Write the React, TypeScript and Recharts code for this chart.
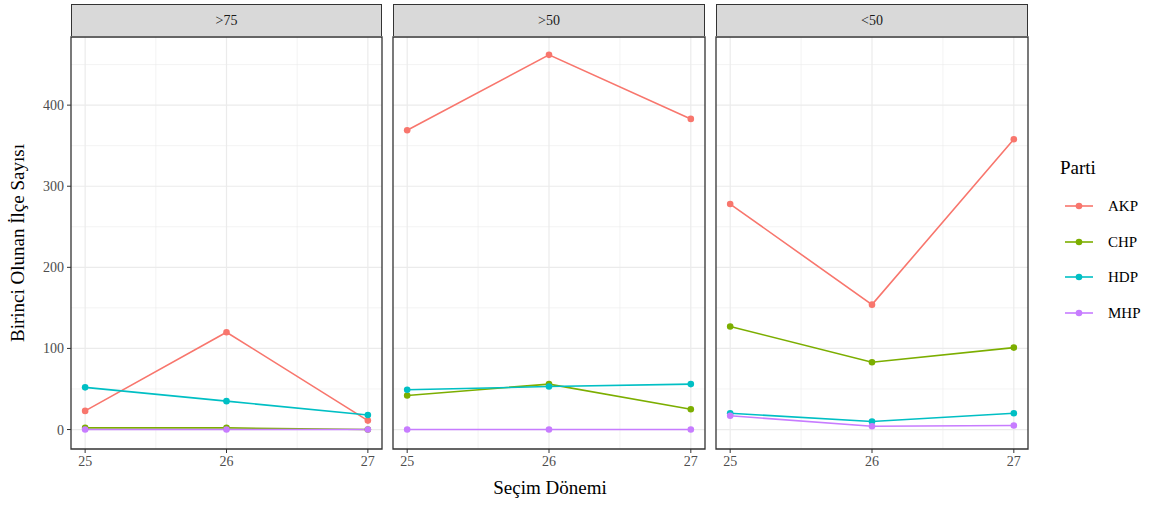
import { LineChart, Line, XAxis, YAxis, CartesianGrid, ReferenceArea } from 'recharts';

const donemler = [25, 26, 27];
const paneller = ['>75', '>50', '<50'];
const partiler = ['AKP', 'CHP', 'HDP', 'MHP'];
const renkler = ['#F8766D', '#7CAE00', '#00BFC4', '#C77CFF'];

// one row per panel, columns follow donemler
const akp = [[23, 120, 11], [369, 462, 383], [278, 154, 358]];
const chp = [[2, 2, 0], [42, 56, 25], [127, 83, 101]];
const hdp = [[52, 35, 18], [49, 53, 56], [20, 10, 20]];
const mhp = [[0, 0, 0], [0, 0, 0], [17, 4, 5]];

const yTicks = [0, 100, 200, 300, 400];
const yMinor = [50, 150, 250, 350, 450];
const xMinor = [25.5, 26.5];

const Y_DOMAIN = [-24, 484];
const X_DOMAIN = [24.9, 27.1];
const FONT = '"Liberation Serif", "Times New Roman", serif';

function panelData(i: number) {
    return donemler.map((d, j) => ({
        donem: d,
        AKP: akp[i][j],
        CHP: chp[i][j],
        HDP: hdp[i][j],
        MHP: mhp[i][j],
    }));
}

// plot area boxes: left, width
const boxes = [
    { left: 71, width: 311 },
    { left: 393, width: 312 },
    { left: 716, width: 312 },
];
const PLOT_TOP = 37;
const PLOT_H = 412;
const PAD = 5;

function Panel({ i }: { i: number }) {
    const box = boxes[i];
    const first = i === 0;
    const chartLeft = first ? 0 : box.left - PAD;
    const chartW = first ? box.left + box.width + PAD : box.width + 2 * PAD;
    return (
        <div style={{ position: 'absolute', left: chartLeft, top: 0 }}>
            <LineChart
                width={chartW}
                height={PLOT_TOP + PLOT_H + 30}
                data={panelData(i)}
                margin={{ top: PLOT_TOP, right: PAD, left: first ? 0 : PAD, bottom: 0 }}
            >
                <CartesianGrid stroke="#EBEBEB" strokeWidth={0.6} horizontalValues={yMinor} verticalValues={xMinor} />
                <CartesianGrid stroke="#EBEBEB" strokeWidth={1.2} horizontalValues={yTicks} verticalValues={donemler} />
                <XAxis
                    type="number"
                    dataKey="donem"
                    domain={X_DOMAIN}
                    ticks={donemler}
                    axisLine={false}
                    tickSize={4}
                    tickMargin={3}
                    height={30}
                    tickLine={{ stroke: '#333333' }}
                    tick={{ fill: '#4D4D4D', fontSize: 14, fontFamily: FONT }}
                />
                <YAxis
                    type="number"
                    domain={Y_DOMAIN}
                    ticks={yTicks}
                    hide={!first}
                    width={first ? 71 : 0}
                    axisLine={false}
                    tickSize={4}
                    tickMargin={3}
                    tickLine={{ stroke: '#333333' }}
                    tick={{ fill: '#4D4D4D', fontSize: 14, fontFamily: FONT }}
                />
                {partiler.map((p, k) => (
                    <Line
                        key={p}
                        type="linear"
                        dataKey={p}
                        stroke={renkler[k]}
                        strokeWidth={1.6}
                        dot={{ r: 3.3, fill: renkler[k], stroke: 'none' }}
                        activeDot={false}
                        isAnimationActive={false}
                    />
                ))}
                <ReferenceArea
                    x1={X_DOMAIN[0]}
                    x2={X_DOMAIN[1]}
                    y1={Y_DOMAIN[0]}
                    y2={Y_DOMAIN[1]}
                    fill="none"
                    stroke="#333333"
                    strokeWidth={1.3}
                    ifOverflow="visible"
                />
            </LineChart>
            <div
                style={{
                    position: 'absolute',
                    left: box.left - chartLeft,
                    top: 4,
                    width: box.width,
                    height: 32,
                    boxSizing: 'border-box',
                    background: '#D9D9D9',
                    border: '1.3px solid #333333',
                    borderBottom: 'none',
                    display: 'flex',
                    alignItems: 'center',
                    justifyContent: 'center',
                    fontFamily: FONT,
                    fontSize: 14,
                    color: '#1A1A1A',
                }}
            >
                {paneller[i]}
            </div>
        </div>
    );
}

export default function App() {
    return (
        <div
            style={{
                position: 'fixed',
                left: 0,
                top: 0,
                width: 1156,
                height: 506,
                background: '#fff',
                fontFamily: FONT,
            }}
        >
            {paneller.map((_, i) => (
                <Panel key={i} i={i} />
            ))}
            <div
                style={{
                    position: 'absolute',
                    left: 18,
                    top: 243,
                    transform: 'translate(-50%, -50%) rotate(-90deg)',
                    whiteSpace: 'nowrap',
                    fontSize: 19,
                    color: '#000',
                }}
            >
                Birinci Olunan İlçe Sayısı
            </div>
            <div
                style={{
                    position: 'absolute',
                    left: 550,
                    top: 488,
                    transform: 'translate(-50%, -50%)',
                    whiteSpace: 'nowrap',
                    fontSize: 19,
                    color: '#000',
                }}
            >
                Seçim Dönemi
            </div>
            <div style={{ position: 'absolute', left: 1060, top: 157, fontSize: 19 }}>Parti</div>
            {partiler.map((p, k) => (
                <div key={p} style={{ position: 'absolute', left: 1063, top: 196 + k * 35.7, height: 20 }}>
                    <svg width={32} height={20} style={{ position: 'absolute', left: 0, top: 0 }}>
                        <line x1={2} x2={30} y1={10} y2={10} stroke={renkler[k]} strokeWidth={1.6} />
                        <circle cx={16} cy={10} r={3.3} fill={renkler[k]} />
                    </svg>
                    <span style={{ position: 'absolute', left: 45, top: 0, fontSize: 15, lineHeight: '20px', whiteSpace: 'nowrap' }}>
                        {p}
                    </span>
                </div>
            ))}
        </div>
    );
}
